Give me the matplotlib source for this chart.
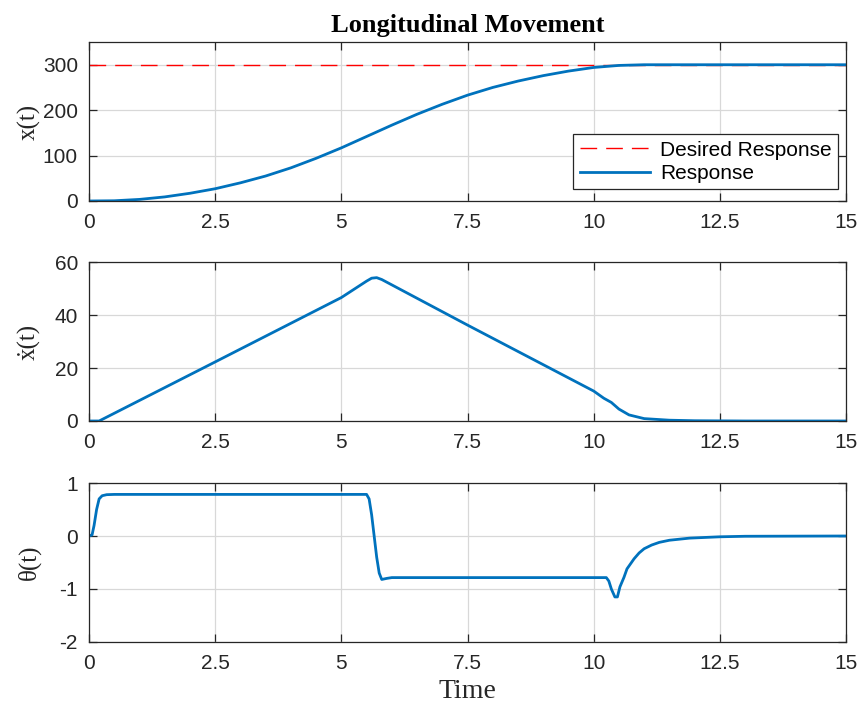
"""Longitudinal movement response: position, velocity and pitch angle"""
import matplotlib
matplotlib.use("Agg")
import matplotlib.pyplot as plt

# position x(t)
t_pos = [0, 0.5, 1, 1.5, 2, 2.5, 3, 3.5, 4, 4.5, 5, 5.5, 6, 6.5, 7, 7.5,
         8, 8.5, 9, 9.5, 10, 10.5, 11, 11.5, 12, 13, 14, 15]
x_pos = [0, 0.5, 3.5, 9, 17, 27, 40, 55, 73, 94, 117, 142, 167, 191, 213, 233,
         250, 264, 276, 286, 294, 298.5, 300, 300, 300, 300, 300, 300]
t_des = [0, 15]
x_des = [300, 300]

# velocity xdot(t)
t_vel = [0, 0.2, 2.5, 5.0, 5.5, 5.6, 5.7, 5.8, 7.5, 10.0, 10.2, 10.35, 10.5,
         10.7, 11.0, 11.5, 12.0, 13.0, 15.0]
x_vel = [0, 0, 22.3, 46.6, 52.8, 53.9, 54.1, 53.4, 36.2, 11.3, 8.6, 7.0, 4.5,
         2.3, 0.9, 0.3, 0.1, 0, 0]

# pitch angle theta(t)
t_ang = [0, 0.06, 0.1, 0.15, 0.2, 0.26, 0.35, 0.5, 5.5, 5.55, 5.6, 5.65, 5.7,
         5.75, 5.8, 5.9, 6.0, 10.25, 10.3, 10.35, 10.42, 10.47, 10.52, 10.6,
         10.66, 10.8, 10.9, 11.0, 11.15, 11.3, 11.5, 11.9, 12.5, 13.0, 15.0]
theta = [0, 0.02, 0.2, 0.5, 0.7, 0.76, 0.78, 0.785, 0.785, 0.7, 0.4, 0.0,
         -0.4, -0.7, -0.82, -0.8, -0.785, -0.785, -0.85, -1.0, -1.15, -1.15,
         -0.96, -0.78, -0.62, -0.43, -0.32, -0.24, -0.17, -0.12, -0.08, -0.04,
         -0.015, -0.005, 0]

xticks = [0, 2.5, 5, 7.5, 10, 12.5, 15]
xticklabels = ["0", "2.5", "5", "7.5", "10", "12.5", "15"]

BLUE = "#0072BD"
DARK = "#262626"
plt.rcParams["font.family"] = ["Liberation Sans", "DejaVu Sans"]
plt.rcParams["axes.unicode_minus"] = False
SERIF = ["Liberation Serif", "DejaVu Serif"]


def style_axes(ax, ylim, yticks):
    """MATLAB-like boxed axes with inward ticks"""
    ax.set_xlim(0, 15)
    ax.set_ylim(*ylim)
    ax.set_xticks(xticks)
    ax.set_xticklabels(xticklabels)
    ax.set_yticks(yticks)
    ax.grid(True, color="#d8d8d8", lw=0.9)
    ax.set_axisbelow(True)
    ax.tick_params(direction="in", length=6, width=0.9, top=True, right=True,
                   labelsize=15, colors=DARK)
    ax.tick_params(axis="y", pad=8)
    ax.tick_params(axis="x", pad=9)
    for sp in ax.spines.values():
        sp.set_color(DARK)
        sp.set_linewidth(0.9)
    return ax


fig = plt.figure(figsize=(8.61, 7.04), dpi=100)
ax1 = fig.add_axes([0.1034, 0.7145, 0.8792, 0.2258])
ax2 = fig.add_axes([0.1034, 0.4020, 0.8792, 0.2258])
ax3 = fig.add_axes([0.1034, 0.0881, 0.8792, 0.2258])

ax1.plot(t_des, x_des, color="red", lw=1.0, dashes=(12, 6.5),
         label="Desired Response")
ax1.plot(t_pos, x_pos, color=BLUE, lw=2.0, label="Response")
style_axes(ax1, (0, 350), [0, 100, 200, 300])
ax1.set_ylabel("x(t)", family=SERIF, fontsize=18, color=DARK)
ax1.set_title("Longitudinal Movement", family=SERIF, fontsize=19,
              fontweight="bold", pad=7)
leg = ax1.legend(loc="lower right", bbox_to_anchor=(0.989, 0.075),
                 fontsize=15, fancybox=False, framealpha=1,
                 edgecolor=DARK, handlelength=3.4, borderpad=0.3,
                 labelspacing=0.2, handletextpad=0.45, borderaxespad=0)
leg.get_frame().set_linewidth(0.9)

ax2.plot(t_vel, x_vel, color=BLUE, lw=2.0)
style_axes(ax2, (0, 60), [0, 20, 40, 60])
ax2.set_ylabel("ẋ(t)", family=SERIF, fontsize=18, color=DARK)

ax3.plot(t_ang, theta, color=BLUE, lw=2.0)
style_axes(ax3, (-2, 1), [-2, -1, 0, 1])
ax3.set_ylabel("θ(t)", family=SERIF, fontsize=18, color=DARK)
ax3.set_xlabel("Time", family=SERIF, fontsize=20, color=DARK, labelpad=4)

for ax in (ax1, ax2, ax3):
    ax.yaxis.set_label_coords(-0.064, 0.5)

fig.savefig("out.png", dpi=100)
